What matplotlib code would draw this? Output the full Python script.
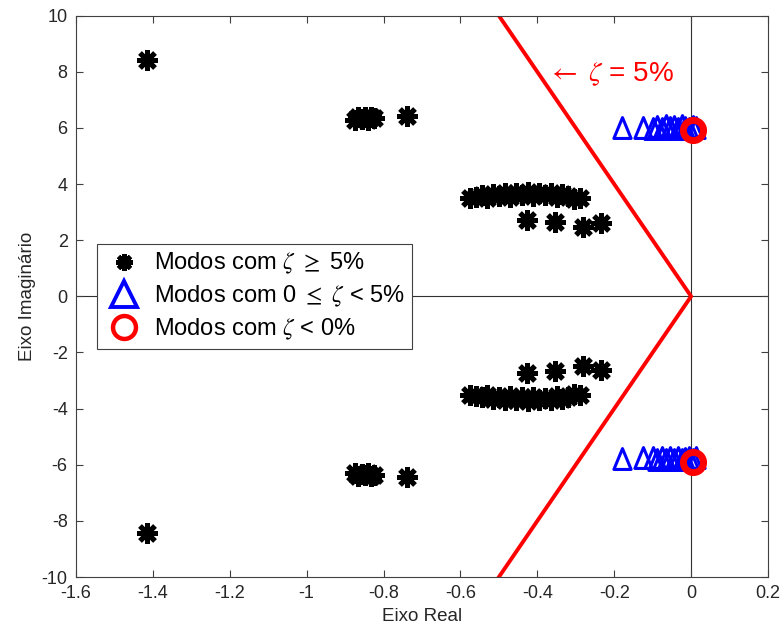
import numpy as np
import matplotlib
matplotlib.use("Agg")
import matplotlib.pyplot as plt
from matplotlib.path import Path
from matplotlib.lines import Line2D

plt.rcParams['font.family'] = ['Liberation Sans', 'DejaVu Sans']
plt.rcParams['mathtext.fontset'] = 'stix'

# ---- data (upper half-plane; lower half are the conjugates) ----
stable_re = [-1.416,
             -0.875, -0.866, -0.857, -0.849, -0.841, -0.833, -0.826, -0.74,
             -0.575, -0.560, -0.545, -0.530, -0.515, -0.500, -0.485, -0.470,
             -0.455, -0.440, -0.425, -0.410, -0.395, -0.380, -0.365, -0.350,
             -0.335, -0.320, -0.305, -0.290,
             -0.427, -0.354, -0.280, -0.235]
stable_im = [8.42,
             6.30, 6.40, 6.33, 6.38, 6.30, 6.40, 6.35, 6.42,
             3.50, 3.55, 3.60, 3.52, 3.65, 3.58, 3.68, 3.55,
             3.70, 3.60, 3.72, 3.58, 3.68, 3.62, 3.70, 3.55,
             3.65, 3.58, 3.48, 3.52,
             2.72, 2.65, 2.48, 2.62]

low_re = [-0.180, -0.125, -0.100, -0.088, -0.075, -0.065, -0.055, -0.045,
          -0.035, -0.025, -0.015, -0.005, 0.005, 0.012]
low_im = [5.90, 5.88, 5.85, 5.92, 5.86, 5.95, 5.88, 5.93,
          5.87, 5.95, 5.90, 5.86, 5.92, 5.88]

unst_re = [0.006]
unst_im = [5.91]

zeta_line_re = [-0.5, 0.0, -0.5]
zeta_line_im = [10.0, 0.0, -10.0]

xticks = [-1.6, -1.4, -1.2, -1, -0.8, -0.6, -0.4, -0.2, 0, 0.2]
yticks = [-10, -8, -6, -4, -2, 0, 2, 4, 6, 8, 10]

labels = [r'Modos com $\zeta$ $\geq$ 5%',
          r'Modos com 0 $\leq$ $\zeta$ < 5%',
          r'Modos com $\zeta$ < 0%']

def conj(re, im):
    return list(re) + list(re), list(im) + [-v for v in im]

sx, sy = conj(stable_re, stable_im)
lx, ly = conj(low_re, low_im)
ux, uy = conj(unst_re, unst_im)

# MATLAB-like triangle (centred at centroid)
tri = Path([(0, 1.0), (-0.62, -0.5), (0.62, -0.5), (0, 1.0)],
           [Path.MOVETO, Path.LINETO, Path.LINETO, Path.CLOSEPOLY])

fig = plt.figure(figsize=(7.84, 6.41), dpi=100)
ax = fig.add_axes([0.0969, 0.0998, 0.8827, 0.8757])

ax.axhline(0, color='#303030', lw=0.8, zorder=1)
ax.axvline(0, color='#303030', lw=0.8, zorder=1)

ax.plot(zeta_line_re, zeta_line_im, color='#ff0000', lw=2.8, zorder=2)

ax.plot(sx, sy, ls='none', marker=(8, 2, 0), ms=15, mew=3.6,
        color='black', mec='black', zorder=3)
ax.plot(lx, ly, ls='none', marker=tri, ms=20, mew=2.2, mfc='none',
        mec='#0000ff', zorder=4)
ax.plot(ux, uy, ls='none', marker='o', ms=14.5, mew=5, mfc='none',
        mec='#ff0000', zorder=5)

ax.text(-0.376, 7.92, r'$\leftarrow$ $\zeta$ = 5%', color='#ff0000',
        fontsize=20, va='center', ha='left')

ax.set_xlim(-1.6, 0.2)
ax.set_ylim(-10, 10)
ax.set_xticks(xticks)
ax.set_xticklabels(['-1.6', '-1.4', '-1.2', '-1', '-0.8', '-0.6', '-0.4', '-0.2', '0', '0.2'])
ax.set_yticks(yticks)
ax.set_yticklabels([str(v) for v in yticks])
ax.tick_params(direction='in', length=5, width=0.8, color='#404040',
               top=True, right=True, labelsize=13, labelcolor='#262626', pad=6)
for s in ax.spines.values():
    s.set_color('#404040')
    s.set_linewidth(0.8)

ax.set_xlabel('Eixo Real', fontsize=13.5, color='#262626', labelpad=4)
ax.set_ylabel('Eixo Imaginário', fontsize=13.5, color='#262626', labelpad=4)

handles = [
    Line2D([], [], ls='none', marker=(8, 2, 0), ms=12, mew=3.2, color='black'),
    Line2D([], [], ls='none', marker='^', ms=19, mew=2.8, mfc='none', mec='#0000ff'),
    Line2D([], [], ls='none', marker='o', ms=16.5, mew=3.2, mfc='none', mec='#ff0000'),
]
leg = ax.legend(handles, labels, loc='upper left', bbox_to_anchor=(0.0303, 0.593),
                borderaxespad=0, fontsize=17, frameon=True, fancybox=False,
                edgecolor='#404040', framealpha=1, handlelength=1.7,
                handletextpad=0.42, labelspacing=0.32, borderpad=0.3)
leg.get_frame().set_linewidth(0.8)

fig.savefig('out.png', dpi=100)
